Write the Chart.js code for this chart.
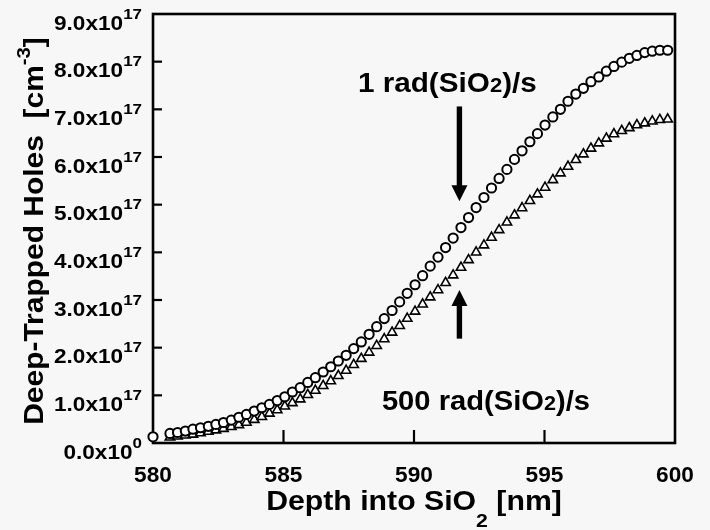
<!DOCTYPE html>
<html>
<head>
<meta charset="utf-8">
<script src="https://cdn.jsdelivr.net/npm/chart.js@4.4.1/dist/chart.umd.min.js"></script>
<style>
  html, body { margin: 0; padding: 0; background: #f7f7f7; }
  canvas { display: block; }
</style>
</head>
<body>
<canvas id="holesChart" width="710" height="530"></canvas>
<script>
// depth into SiO2 [nm]
var depth = [580, 580.65, 580.94, 581.24, 581.53, 581.82, 582.12, 582.41, 582.70, 583.00, 583.29,
  583.58, 583.88, 584.17, 584.46, 584.76, 585.05, 585.34, 585.64, 585.93, 586.22,
  586.52, 586.81, 587.10, 587.40, 587.69, 587.98, 588.28, 588.57, 588.86, 589.16,
  589.45, 589.74, 590.04, 590.33, 590.62, 590.92, 591.21, 591.50, 591.80, 592.09,
  592.38, 592.68, 592.97, 593.26, 593.56, 593.85, 594.14, 594.44, 594.73, 595.02,
  595.32, 595.61, 595.90, 596.20, 596.49, 596.78, 597.08, 597.37, 597.66, 597.96,
  598.25, 598.54, 598.84, 599.13, 599.42, 599.72];

// deep-trapped holes, in units of 10^17 cm^-3
var holes1Rad = [0.13, 0.20, 0.22, 0.25, 0.29, 0.32, 0.35, 0.39, 0.43, 0.48, 0.54,
  0.60, 0.67, 0.74, 0.81, 0.89, 0.97, 1.07, 1.16, 1.27, 1.37,
  1.49, 1.60, 1.72, 1.84, 1.98, 2.12, 2.28, 2.44, 2.61, 2.78,
  2.96, 3.14, 3.32, 3.51, 3.71, 3.90, 4.10, 4.30, 4.52, 4.73,
  4.94, 5.15, 5.35, 5.55, 5.74, 5.95, 6.13, 6.32, 6.49, 6.67,
  6.84, 7.00, 7.17, 7.32, 7.44, 7.58, 7.68, 7.80, 7.90, 7.99,
  8.07, 8.13, 8.19, 8.22, 8.24, 8.24];

var holes500Rad = [null, 0.12, 0.14, 0.16, 0.18, 0.21, 0.24, 0.27, 0.30, 0.34, 0.38,
  0.43, 0.49, 0.55, 0.62, 0.69, 0.77, 0.84, 0.92, 1.01, 1.10,
  1.20, 1.30, 1.41, 1.52, 1.64, 1.77, 1.90, 2.04, 2.18, 2.32,
  2.46, 2.61, 2.76, 2.91, 3.06, 3.21, 3.36, 3.52, 3.68, 3.84,
  4.00, 4.15, 4.31, 4.47, 4.63, 4.78, 4.93, 5.08, 5.22, 5.36,
  5.52, 5.66, 5.80, 5.94, 6.06, 6.18, 6.29, 6.39, 6.48, 6.55,
  6.61, 6.67, 6.71, 6.75, 6.78, 6.79];

var xTicks = [580, 585, 590, 595, 600];
var yTicks = [0, 1, 2, 3, 4, 5, 6, 7, 8, 9];

var FONT = '"Liberation Sans", Arial, sans-serif';

function toPoints(xs, ys) {
  var pts = [];
  for (var i = 0; i < xs.length; i++) {
    if (ys[i] !== null) pts.push({ x: xs[i], y: ys[i] });
  }
  return pts;
}

// draws text pieces in a row: [text, size, yOffset], stretched by sx
function drawPieces(ctx, pieces, x, y, align, sx) {
  sx = sx || 1;
  var total = 0;
  pieces.forEach(p => {
    ctx.font = 'bold ' + p[1] + 'px ' + FONT;
    p.w = ctx.measureText(p[0]).width;
    total += p.w;
  });
  var start = x;
  if (align === 'center') start = x - total * sx / 2;
  if (align === 'right') start = x - total * sx;
  ctx.save();
  ctx.translate(start, y);
  ctx.scale(sx, 1);
  ctx.textAlign = 'left';
  ctx.textBaseline = 'alphabetic';
  var cx = 0;
  pieces.forEach(p => {
    ctx.font = 'bold ' + p[1] + 'px ' + FONT;
    ctx.fillText(p[0], cx, p[2]);
    cx += p.w;
  });
  ctx.restore();
}

function arrow(ctx, x, yTail, yTip) {
  var dir = yTip > yTail ? 1 : -1;
  var headLen = 16, headHalf = 8;
  ctx.fillRect(x - 2.7, Math.min(yTail, yTip - dir * headLen), 5.4, Math.abs(yTip - dir * headLen - yTail) + 1);
  ctx.beginPath();
  ctx.moveTo(x - headHalf, yTip - dir * headLen);
  ctx.lineTo(x + headHalf, yTip - dir * headLen);
  ctx.lineTo(x, yTip);
  ctx.closePath();
  ctx.fill();
}

var decorations = {
  id: 'decorations',
  beforeDatasetsDraw(chart) {
    var ctx = chart.ctx, a = chart.chartArea;
    var xs = chart.scales.x, ys = chart.scales.y;
    ctx.save();
    ctx.strokeStyle = '#000';
    ctx.lineWidth = 2.6;
    ctx.strokeRect(a.left, a.top, a.right - a.left, a.bottom - a.top);
    ctx.lineWidth = 2.2;
    yTicks.forEach(v => {
      if (v === 0 || v === 9) return;
      var y = ys.getPixelForValue(v);
      ctx.beginPath(); ctx.moveTo(a.left, y); ctx.lineTo(a.left + 9, y); ctx.stroke();
    });
    xTicks.forEach(v => {
      if (v === 580 || v === 600) return;
      var x = xs.getPixelForValue(v);
      ctx.beginPath(); ctx.moveTo(x, a.bottom); ctx.lineTo(x, a.bottom - 13); ctx.stroke();
    });
    ctx.restore();
  },
  afterDraw(chart) {
    var ctx = chart.ctx, a = chart.chartArea;
    var xs = chart.scales.x, ys = chart.scales.y;
    ctx.save();
    ctx.fillStyle = '#000';

    // y tick labels with superscript exponent
    yTicks.forEach(v => {
      var y = ys.getPixelForValue(v);
      var sup = v === 0 ? '0' : '17';
      drawPieces(ctx, [[v.toFixed(1) + 'x10', 20, 0], [sup, 15, -11]], 142, y + 15.5, 'right', 1.13);
    });

    // x tick labels
    xTicks.forEach(v => {
      drawPieces(ctx, [[String(v), 22, 0]], xs.getPixelForValue(v), a.bottom + 39, 'center', 1.03);
    });

    // x axis title
    drawPieces(ctx, [['Depth into SiO', 27, 0], ['2', 19, 17], [' [nm]', 27, 0]], (a.left + a.right) / 2, 510, 'center', 1.12);

    // y axis title
    ctx.save();
    ctx.translate(43, 231);
    ctx.rotate(-Math.PI / 2);
    drawPieces(ctx, [['Deep-Trapped Holes  [cm', 28, 0], ['-3', 19, -13], [']', 28, 0]], 0, 0, 'center', 1.07);
    ctx.restore();

    // annotations
    drawPieces(ctx, [['1 rad(SiO', 27, 0], ['2', 20, 0], [')/s', 27, 0]], xs.getPixelForValue(587.85), ys.getPixelForValue(7.36), 'left', 1.1);
    drawPieces(ctx, [['500 rad(SiO', 27, 0], ['2', 20, 0], [')/s', 27, 0]], xs.getPixelForValue(588.77), ys.getPixelForValue(0.69), 'left', 1.08);

    var ax = xs.getPixelForValue(591.74);
    arrow(ctx, ax, ys.getPixelForValue(7.06), ys.getPixelForValue(5.07));
    arrow(ctx, ax, ys.getPixelForValue(2.21), ys.getPixelForValue(3.21));
    ctx.restore();
  }
};

new Chart(document.getElementById('holesChart'), {
  type: 'scatter',
  data: {
    datasets: [
      {
        label: '1 rad(SiO2)/s',
        data: toPoints(depth, holes1Rad),
        pointStyle: 'circle',
        pointRadius: 4.6,
        borderWidth: 2,
        borderColor: '#000',
        backgroundColor: '#fff',
        showLine: false,
        clip: false
      },
      {
        label: '500 rad(SiO2)/s',
        data: toPoints(depth, holes500Rad),
        pointStyle: 'triangle',
        pointRadius: 5.4,
        borderWidth: 1.6,
        borderColor: '#000',
        backgroundColor: '#fff',
        showLine: false,
        clip: false
      }
    ]
  },
  options: {
    responsive: false,
    animation: false,
    devicePixelRatio: 1,
    layout: { padding: { top: 14, right: 35, left: 0, bottom: 0 }, autoPadding: false },
    plugins: { legend: { display: false }, tooltip: { enabled: false } },
    scales: {
      x: {
        type: 'linear', min: 580, max: 600,
        ticks: { stepSize: 5, display: false },
        grid: { display: false }, border: { display: false },
        afterFit: s => { s.height = 87; }
      },
      y: {
        type: 'linear', min: 0, max: 9,
        ticks: { stepSize: 1, display: false },
        grid: { display: false }, border: { display: false },
        afterFit: s => { s.width = 153; }
      }
    }
  },
  plugins: [decorations]
});
</script>
</body>
</html>
